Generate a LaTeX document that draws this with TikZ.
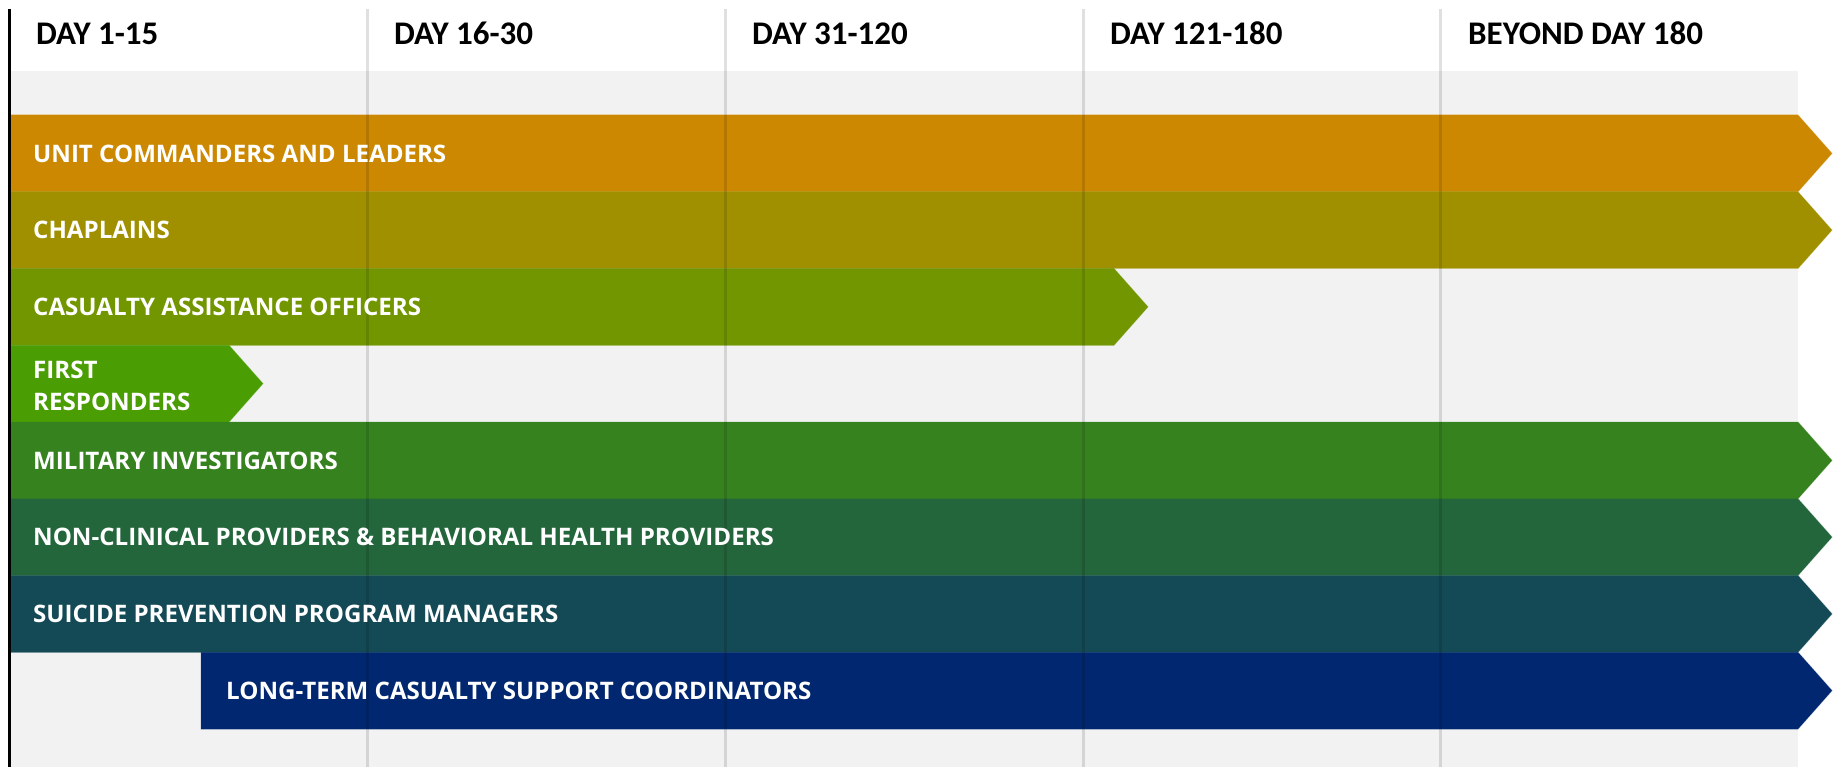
\documentclass[tikz,border=0pt]{standalone}
\usepackage{fontspec}
\setmainfont{Open Sans}
\newfontfamily\hdfont{Carlito}
\definecolor{bggray}{HTML}{F2F2F2}
\definecolor{cunit}{HTML}{CC8800}
\definecolor{cchap}{HTML}{A09000}
\definecolor{ccao}{HTML}{729600}
\definecolor{cfirst}{HTML}{4A9E04}
\definecolor{cmil}{HTML}{36821F}
\definecolor{cnon}{HTML}{23663C}
\definecolor{csui}{HTML}{134A55}
\definecolor{clong}{HTML}{00276F}
\begin{document}
\begin{tikzpicture}[x=1pt, y=-1pt,
  band/.style={draw=white, draw opacity=0.3, line width=1pt},
  bandtext/.style={anchor=base west, inner sep=0pt, text=white,
    font=\bfseries\fontsize{24.1}{32}\selectfont},
  daytext/.style={anchor=base west, inner sep=0pt,
    font=\hdfont\bfseries\fontsize{33}{38}\selectfont},
  gridline/.style={line width=3pt, draw=black, draw opacity=0.12}]
\useasboundingbox (0,0) rectangle (1841,767);
\fill[bggray] (11,71) rectangle (1798,767);
\fill[band, cunit]  (11,115)    -- (1798,115)    -- (1832,153.4) -- (1798,191.75) -- (11,191.75) -- cycle;
\fill[band, cchap]  (11,191.75) -- (1798,191.75) -- (1832,230.1) -- (1798,268.5)  -- (11,268.5)  -- cycle;
\fill[band, ccao]   (11,268.5)  -- (1114,268.5)  -- (1148,306.9) -- (1114,345.25) -- (11,345.25) -- cycle;
\fill[band, cfirst] (11,345.25) -- (229,345.25)  -- (263,383.6)  -- (229,422)     -- (11,422)    -- cycle;
\fill[band, cmil]   (11,422)    -- (1798,422)    -- (1832,460.4) -- (1798,498.75) -- (11,498.75) -- cycle;
\fill[band, cnon]   (11,498.75) -- (1798,498.75) -- (1832,537.1) -- (1798,575.5)  -- (11,575.5)  -- cycle;
\fill[band, csui]   (11,575.5)  -- (1798,575.5)  -- (1832,613.9) -- (1798,652.25) -- (11,652.25) -- cycle;
\fill[band, clong]  (201,652.25) -- (1798,652.25) -- (1832,690.6) -- (1798,729)   -- (201,729)   -- cycle;
\draw[gridline] (367,9) -- (367,767);
\draw[gridline] (725,9) -- (725,767);
\draw[gridline] (1083,9) -- (1083,767);
\draw[gridline] (1440,9) -- (1440,767);
\draw[line width=3pt] (9.5,9) -- (9.5,767);
\node[daytext] (d1) at (36,45) {DAY 1-15};
\node[daytext] (d2) at (394,45) {DAY 16-30};
\node[daytext] (d3) at (752,45) {DAY 31-120};
\node[daytext] (d4) at (1110,45) {DAY 121-180};
\node[daytext] (d5) at (1468,45) {BEYOND DAY 180};
\node[bandtext] (unit) at (33,162.2) {UNIT COMMANDERS AND LEADERS};
\node[bandtext] (chap) at (33,238.9) {CHAPLAINS};
\node[bandtext] (cao)  at (33,315.6) {CASUALTY ASSISTANCE OFFICERS};
\node[bandtext, anchor=west, align=left] (first) at (33,386) {FIRST\\RESPONDERS};
\node[bandtext] (mil)  at (33,469.1) {MILITARY INVESTIGATORS};
\node[bandtext] (non)  at (33,545.9) {NON-CLINICAL PROVIDERS \& BEHAVIORAL HEALTH PROVIDERS};
\node[bandtext] (sui)  at (33,622.6) {SUICIDE PREVENTION PROGRAM MANAGERS};
\node[bandtext] (long) at (226,699.4) {LONG-TERM CASUALTY SUPPORT COORDINATORS};
\end{tikzpicture}
\end{document}
